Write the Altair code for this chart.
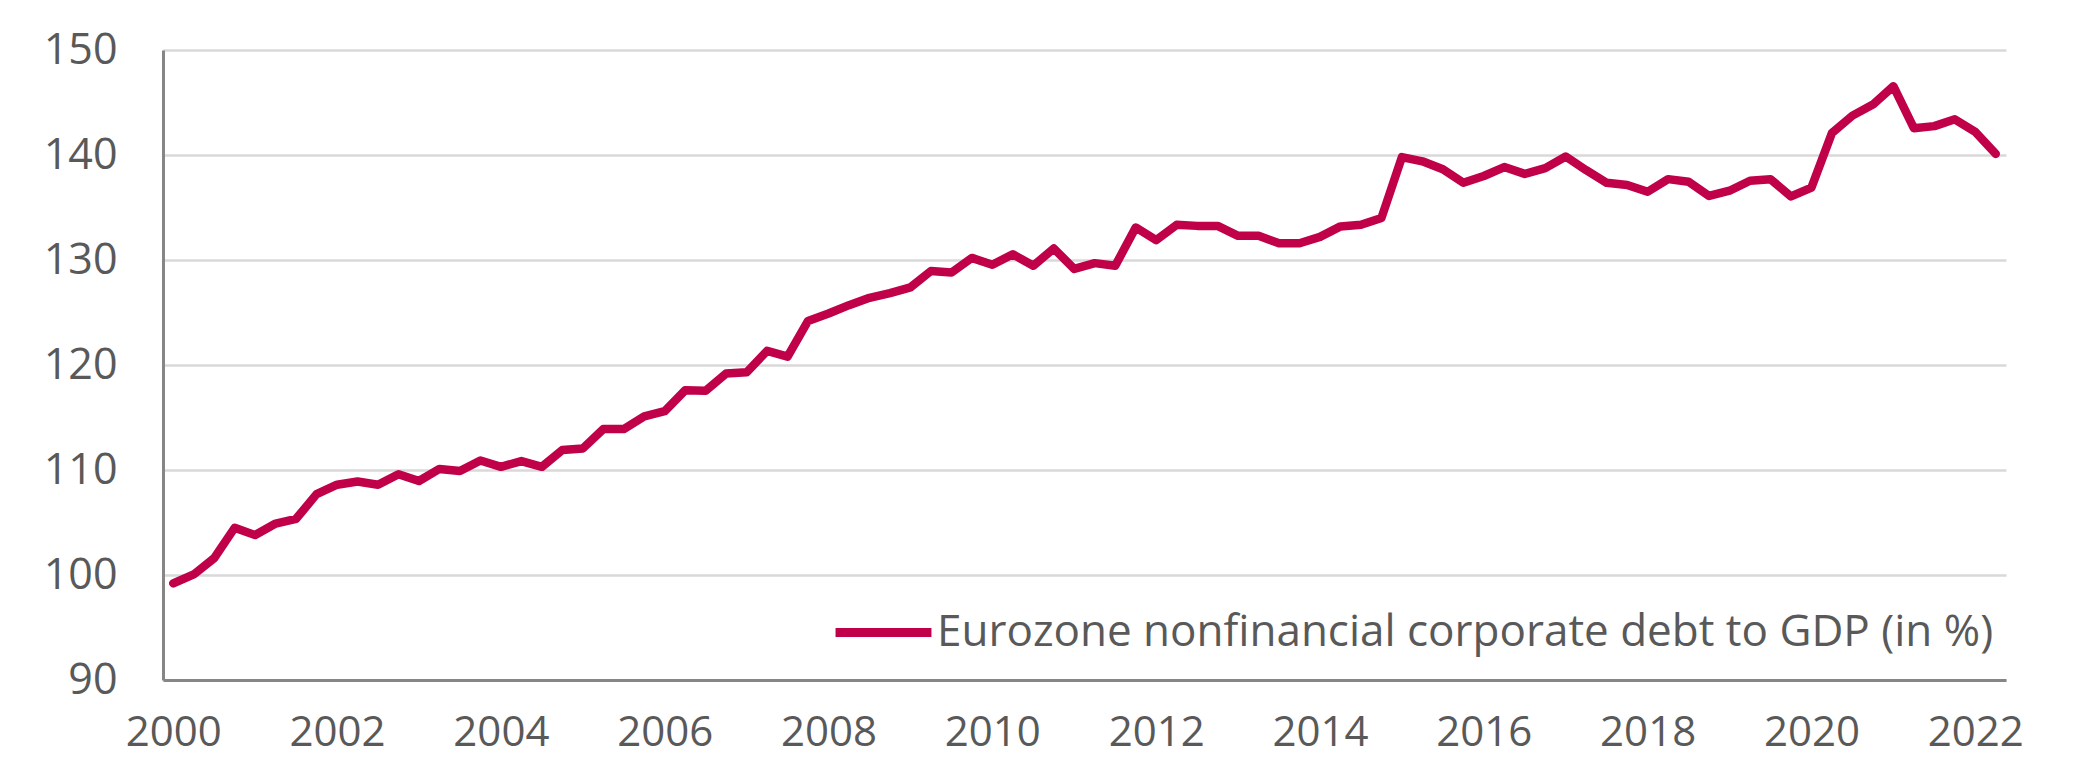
import altair as alt
import pandas as pd

# Quarterly data, 2000 Q1 .. 2022 Q2
quarter_index = list(range(90))
debt_to_gdp = [
    99.2, 100.05, 101.6, 104.5, 103.8, 104.9, 105.35, 107.7,
    108.6, 108.9, 108.6, 109.6, 108.95, 110.1, 109.9, 110.9,
    110.3, 110.85, 110.3, 111.9, 112.05, 113.9, 113.9, 115.1,
    115.6, 117.6, 117.55, 119.2, 119.3, 121.35, 120.8, 124.2,
    124.9, 125.7, 126.4, 126.85, 127.4, 128.95, 128.8, 130.2,
    129.55, 130.55, 129.45, 131.1, 129.15, 129.7, 129.45, 133.1,
    131.9, 133.35, 133.25, 133.25, 132.3, 132.3, 131.6, 131.6,
    132.2, 133.2, 133.35, 134.0, 139.8, 139.4, 138.65, 137.35,
    138.0, 138.85, 138.2, 138.75, 139.85, 138.55, 137.35, 137.15,
    136.5, 137.7, 137.45, 136.1, 136.6, 137.55, 137.7, 136.05,
    136.9, 142.1, 143.75, 144.8, 146.55, 142.55, 142.75, 143.4,
    142.2, 140.1,
]
series_name = "Eurozone nonfinancial corporate debt to GDP (in %)"
year_tick_positions = [0, 8, 16, 24, 32, 40, 48, 56, 64, 72, 80, 88]
y_ticks = [90, 100, 110, 120, 130, 140, 150]

df = pd.DataFrame({
    "idx": quarter_index,
    "value": debt_to_gdp,
    "series": [series_name] * len(quarter_index),
})

FONT = "Open Sans"
LINE_COLOR = "#C00048"
TEXT_COLOR = "#595959"

chart = (
    alt.Chart(df)
    .mark_line(strokeWidth=8.5, strokeJoin="round", strokeCap="round")
    .encode(
        x=alt.X(
            "idx:Q",
            scale=alt.Scale(domain=[-0.5, 89.5], nice=False, zero=False),
            axis=alt.Axis(
                values=year_tick_positions,
                labelExpr="2000 + datum.value / 4",
                title=None,
                grid=False,
                ticks=False,
                domainColor="#868686",
                domainWidth=3,
                labelFont=FONT,
                labelFontSize=42,
                labelColor=TEXT_COLOR,
                labelPadding=32,
                labelFlush=False,
                labelOverlap=False,
            ),
        ),
        y=alt.Y(
            "value:Q",
            scale=alt.Scale(domain=[90, 150], nice=False, zero=False),
            axis=alt.Axis(
                values=y_ticks,
                title=None,
                grid=True,
                gridColor="#D9D9D9",
                gridWidth=2.5,
                ticks=False,
                domainColor="#868686",
                domainWidth=3,
                labelFont=FONT,
                labelFontSize=43,
                labelColor=TEXT_COLOR,
                labelPadding=46,
                labelOverlap=False,
            ),
        ),
        color=alt.Color(
            "series:N",
            scale=alt.Scale(range=[LINE_COLOR]),
            legend=alt.Legend(
                title=None,
                orient="none",
                legendX=668,
                legendY=530,
                symbolType="stroke",
                symbolSize=9200,
                symbolStrokeWidth=9,
                labelFont=FONT,
                labelFontSize=44,
                labelColor=TEXT_COLOR,
                labelLimit=2000,
                labelOffset=1,
            ),
        ),
    )
    .properties(
        width=1843,
        height=630,
        autosize=alt.AutoSizeParams(type="none"),
        padding={"left": 155, "top": 42, "right": 61, "bottom": 80},
    )
    .configure_view(stroke=None)
)

chart.save("out.html", embed_options={"renderer": "svg", "actions": False})
